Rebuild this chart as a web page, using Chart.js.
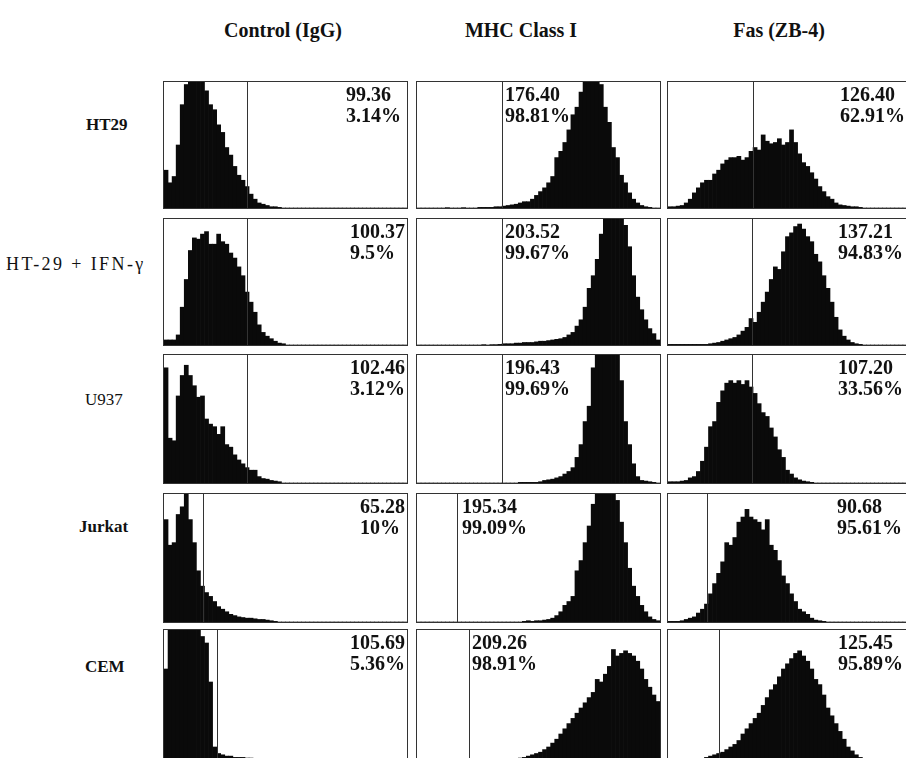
<!DOCTYPE html>
<html>
<head>
<meta charset="utf-8">
<script src="https://cdn.jsdelivr.net/npm/chart.js@4.4.1/dist/chart.umd.min.js"></script>
<style>
  body { margin: 0; background: #fff; width: 906px; height: 758px; overflow: hidden; position: relative; }
  .txt { position: absolute; font-family: "Liberation Serif", "Times New Roman", serif; color: #111; white-space: nowrap; line-height: 1; }
  .head { font-weight: bold; font-size: 20px; transform: translateX(-50%); }
  .row { font-size: 17px; }
  .panel { position: absolute; border: 1px solid #333; box-sizing: border-box; }
  .panel canvas { display: block; }
  .val { position: absolute; font-family: "Liberation Serif", "Times New Roman", serif; font-weight: bold; font-size: 20px; line-height: 21px; color: #111; white-space: nowrap; }
</style>
</head>
<body>
<script>
// column / row names
const antibodies = ['Control (IgG)', 'MHC Class I', 'Fas (ZB-4)'];
const cellLines = ['HT29', 'HT-29 + IFN-\u03b3', 'U937', 'Jurkat', 'CEM'];

// mean fluorescence and % positive, per row then column
const meanValues = [
  ['99.36', '176.40', '126.40'],
  ['100.37', '203.52', '137.21'],
  ['102.46', '196.43', '107.20'],
  ['65.28', '195.34', '90.68'],
  ['105.69', '209.26', '125.45']
];
const percentValues = [
  ['3.14%', '98.81%', '62.91%'],
  ['9.5%', '99.67%', '94.83%'],
  ['3.12%', '99.69%', '33.56%'],
  ['10%', '99.09%', '95.61%'],
  ['5.36%', '98.91%', '95.89%']
];

// marker gate position, in channel bins (0-60)
const gates = [
  [20.6, 20.9, 21.1],
  [20.6, 20.9, 20.8],
  [20.6, 20.9, 20.8],
  [9.6, 9.8, 9.6],
  [13.2, 12.8, 12.5]
];

// histogram counts, % of panel height, 60 channel bins each
const ht29Igg = [30,20,25,50,82,98,100,100,100,100,93,82,78,66,60,48,42,33,26,22,17,11,7,4,3,2,1,1,0.5,0,0,0,0,0,0,0,0,0,0,0,0,0,0,0,0,0,0,0,0,0,0,0,0,0,0,0,0,0,0,0];
const ht29Mhc = [0,0,0,0,0,0,0,0.3,0,0,0,0.3,0,0,0,0.5,0.5,0.5,0.5,1,1,1.5,2,2.5,3,4,5,5,7,10,13,16,20,25,40,45,52,62,74,80,92,100,100,100,100,98,80,68,48,40,26,20,12,7,4,2,1,0.5,0,0];
const ht29Fas = [1,1,1.5,2,4,7,12,16,20,22,22,27,30,35,38,40,40,41,38,40,45,48,46,58,53,51,52,55,50,52,62,52,43,36,33,28,23,17,13,9,7,4,2.5,2,1.5,1,1,0.5,0,0,0,0,0,0,0,0,0,0,0,0];
const ifnIgg = [4,4,4,8,30,52,75,85,84,88,90,80,80,88,82,80,73,69,62,55,42,34,26,16,10,7,5,3,1.5,1,0,0,0,0,0,0,0,0,0,0,0,0,0,0,0,0,0,0,0,0,0,0,0,0,0,0,0,0,0,0];
const ifnMhc = [0,0,0,0,0,0,0,0,0,0,0,0,0,0,0,0,0.3,0,0.3,0.3,0.5,1,1,1,1.5,1.5,2,2,2,2.5,3,3,3.5,4,4.5,5,6,8,10,15,20,30,45,55,68,88,100,100,100,100,100,95,78,55,38,28,20,13,9,4];
const ifnFas = [0.5,0.5,0.5,0.5,0.5,0.5,0.5,0.5,0.5,0.5,1,1.5,2,3,4,5,6,8,11,14,21,18,26,34,42,52,62,60,74,86,89,94,96,92,86,82,72,66,55,45,34,22,12,7,4,2,1,0.5,0,0,0,0,0,0,0,0,0,0,0,0];
const u937Igg = [90,35,33,68,84,92,84,76,67,68,50,46,44,38,44,30,28,22,18,15,12,10,10,5,3.5,3,2,1.5,1,0,0,0,0,0,0,0,0,0,0,0,0,0,0,0,0,0,0,0,0,0,0,0,0,0,0,0,0,0,0,0];
const u937Mhc = [0,0,0,0,0,0,0,0,0,0,0,0,0,0,0,0,0,0,0,0,0,0,0,0,0,0.5,0.5,0.5,0.5,0.5,1,2,2.5,3,4,5,7,9,12,20,30,48,60,90,100,100,100,100,100,100,80,48,30,15,5,2,1.5,1,0.5,0];
const u937Fas = [1,1,1,1.5,2,4,5,9,17,28,44,48,63,72,78,80,78,80,77,80,75,70,62,55,52,43,36,26,20,10,7,4,2.5,1.5,1,0.5,0,0,0,0,0,0,0,0,0,0,0,0,0,0,0,0,0,0,0,0,0,0,0,0];
const jurkatIgg = [80,60,62,84,90,100,80,62,40,28,23,20,16,12,10,8,6,5,4,3.5,3,3,2.5,2,2,1.5,1,0.5,0,0,0,0,0,0,0,0,0,0,0,0,0,0,0,0,0,0,0,0,0,0,0,0,0,0,0,0,0,0,0,0];
const jurkatMhc = [0,0,0,0,0,0,0,0,0,0,0,0,0,0,0,0,0,0,0,0,0,0,0,0,0,0,0.5,1,0.5,1,1,1.5,2,3,5,8,13,16,20,40,48,62,75,92,100,100,100,100,100,95,78,62,42,28,20,13,8,4,2,1];
const jurkatFas = [0.5,0.5,0.5,1,2,3,4,7,10,14,22,30,38,47,62,60,66,78,82,88,82,80,78,72,80,60,56,48,36,30,22,16,10,8,6,3,1.5,1,0.5,0,0,0,0,0,0,0,0,0,0,0,0,0,0,0,0,0,0,0,0,0];
const cemIgg = [70,100,100,100,100,100,100,100,100,95,90,60,10,5,4,3,3,2,2,2,1.5,1.5,1,1,1,0.5,0.5,0.5,0,0,0,0,0,0,0,0,0,0,0,0,0,0,0,0,0,0,0,0,0,0,0,0,0,0,0,0,0,0,0,0];
const cemMhc = [0,0,0,0,0,0,0,0,0,0,0,0,0,0,0,0,0,0,0,0,0,0.5,0.5,1,1,1.5,2,3,4,5,6,8,10,13,16,20,24,28,32,36,40,44,48,52,62,60,66,72,85,80,82,84,82,80,76,70,62,56,50,45];
const cemFas = [0.5,0.5,0.5,0.5,0.5,0.5,0.5,1,1,2,3,4,5,6,8,10,12,15,20,24,28,32,36,42,48,54,58,64,70,74,78,82,84,80,76,70,62,58,50,40,34,28,22,16,10,7,4,2,1,0.5,0,0,0,0,0,0,0,0,0,0];

const histograms = [
  [ht29Igg, ht29Mhc, ht29Fas],
  [ifnIgg, ifnMhc, ifnFas],
  [u937Igg, u937Mhc, u937Fas],
  [jurkatIgg, jurkatMhc, jurkatFas],
  [cemIgg, cemMhc, cemFas]
];
const channels = ht29Igg.map((v, i) => String(i));

// layout of the grid (pixels)
const colLeft = [163, 416, 667];
const colHeadX = [283, 521, 779];
const rowTop = [81, 218, 354, 493, 629];
const rowHeight = [128, 128, 130, 130, 132];
const panelWidth = 245;
const rowLabelX = [86, 6, 85, 79, 85];
const rowLabelY = [116, 256, 391, 518, 658];
const valLeft = [
  [346, 505, 840],
  [350, 505, 838],
  [350, 505, 838],
  [360, 462, 837],
  [350, 472, 838]
];

const gatePlugin = {
  id: 'gate',
  afterDatasetsDraw(chart, args, opts) {
    const ctx = chart.ctx;
    const x = Math.round(chart.scales.x.getPixelForValue(opts.value - 0.5)) + 0.5;
    ctx.save();
    ctx.strokeStyle = '#333';
    ctx.lineWidth = 1;
    ctx.beginPath();
    ctx.moveTo(x, chart.chartArea.top);
    ctx.lineTo(x, chart.chartArea.bottom);
    ctx.stroke();
    ctx.restore();
  }
};

function addText(cls, text, left, top) {
  const d = document.createElement('div');
  d.className = cls;
  d.textContent = text;
  d.style.left = left + 'px';
  d.style.top = top + 'px';
  document.body.appendChild(d);
  return d;
}

antibodies.forEach((name, c) => addText('txt head', name, colHeadX[c], 20));
cellLines.forEach((name, r) => {
  const d = addText('txt row', name, rowLabelX[r], rowLabelY[r]);
  if (r === 0 || r === 3 || r === 4) d.style.fontWeight = 'bold';
  if (r === 1) { d.style.fontSize = '18px'; d.style.letterSpacing = '2.4px'; d.style.top = (rowLabelY[r] - 1) + 'px'; }
});

histograms.forEach((row, r) => {
  row.forEach((values, c) => {
    const box = document.createElement('div');
    box.className = 'panel';
    box.style.left = colLeft[c] + 'px';
    box.style.top = rowTop[r] + 'px';
    box.style.width = panelWidth + 'px';
    box.style.height = rowHeight[r] + 'px';
    const canvas = document.createElement('canvas');
    canvas.width = panelWidth - 2;
    canvas.height = rowHeight[r] - 2;
    box.appendChild(canvas);
    document.body.appendChild(box);

    new Chart(canvas, {
      type: 'bar',
      data: {
        labels: channels,
        datasets: [{
          data: values,
          backgroundColor: '#0a0a0a',
          borderWidth: 0,
          barPercentage: 1,
          categoryPercentage: 1
        }]
      },
      options: {
        responsive: false,
        animation: false,
        layout: { padding: 0 },
        plugins: {
          legend: { display: false },
          tooltip: { enabled: false },
          gate: { value: gates[r][c] }
        },
        scales: {
          x: { display: false },
          y: { display: false, min: 0, max: 100 }
        }
      },
      plugins: [gatePlugin]
    });

    const v = document.createElement('div');
    v.className = 'val';
    v.style.left = valLeft[r][c] + 'px';
    v.style.top = (rowTop[r] + 3) + 'px';
    v.innerHTML = meanValues[r][c] + '<br>' + percentValues[r][c];
    document.body.appendChild(v);
  });
});
</script>
</body>
</html>
